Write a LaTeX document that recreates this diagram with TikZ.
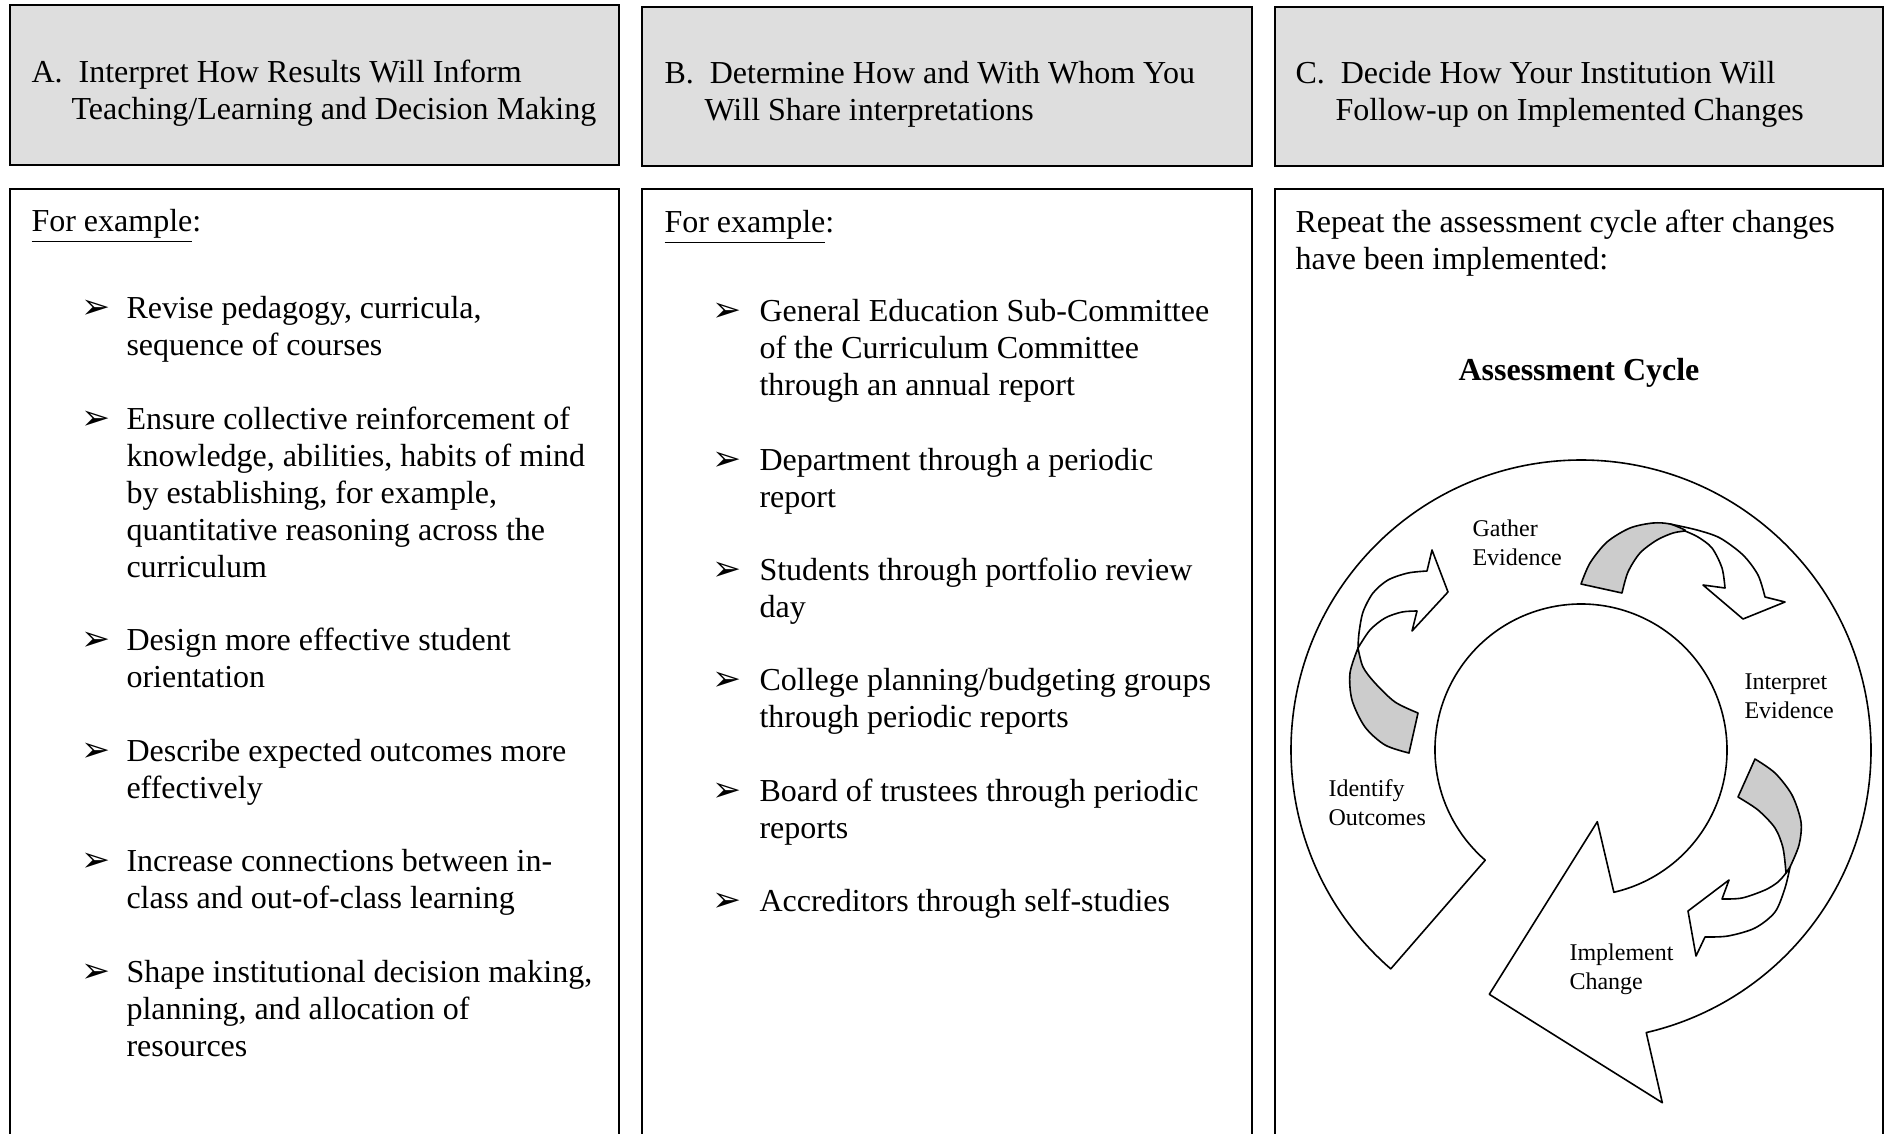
\documentclass[tikz,border=0pt]{standalone}
\usepackage{fontspec}
\setmainfont{Liberation Serif}
\newfontfamily\symfont{DejaVu Sans}
\definecolor{headgray}{gray}{0.87}
\definecolor{ribbongray}{gray}{0.8}
\tikzset{
  headbox/.style={draw, line width=0.8pt, fill=headgray},
  bodybox/.style={draw, line width=0.8pt},
  % multi-line nodes: placed at the baseline of their last line
  txt/.style={anchor=base west, inner sep=0pt, align=left, font=\fontsize{12}{13.83}\selectfont},
  pointer/.style={anchor=base west, inner sep=0pt, font=\symfont\fontsize{13}{14}\selectfont},
  cyclab/.style={anchor=base west, inner sep=0pt, align=left, font=\fontsize{9}{10.6}\selectfont},
  ring/.style={draw, line width=0.6pt, fill=white, line join=round},
  ribbon/.style={draw, line width=0.6pt, fill=ribbongray, line join=round},
  flap/.style={draw, line width=0.6pt, fill=white, line join=round},
}
\begin{document}
\begin{tikzpicture}[x=0.375pt, y=-0.375pt]
\useasboundingbox (0,0) rectangle (1889,1133);
\clip (0,0) rectangle (1889,1133);
% header row
\draw[headbox] (10,5) rectangle (619,165);
\draw[headbox] (642,7) rectangle (1252,166);
\draw[headbox] (1275,7) rectangle (1883,166);
\node[txt] (headA) at (31,119) {A.\ \ Interpret How Results Will Inform\\\hspace*{15pt}Teaching/Learning and Decision Making};
\node[txt] (headB) at (664,120) {B.\ \ Determine How and With Whom You\\\hspace*{15pt}Will Share interpretations};
\node[txt] (headC) at (1295,120) {C.\ \ Decide How Your Institution Will\\\hspace*{15pt}Follow-up on Implemented Changes};
% body row
\draw[bodybox] (10,189) rectangle (619,1160);
\draw[bodybox] (642,189) rectangle (1252,1160);
\draw[bodybox] (1275,189) rectangle (1883,1160);

% column A
\node[txt] (forA) at (31,231) {\underline{For example}:};
\node[pointer] (pA1) at (81,318) {➢};
\node[txt] (itemA1) at (126,355) {Revise pedagogy, curricula,\\sequence of courses};
\node[pointer] (pA2) at (81,429) {➢};
\node[txt] (itemA2) at (126,577) {Ensure collective reinforcement of\\knowledge, abilities, habits of mind\\by establishing, for example,\\quantitative reasoning across the\\curriculum};
\node[pointer] (pA3) at (81,650) {➢};
\node[txt] (itemA3) at (126,687) {Design more effective student\\orientation};
\node[pointer] (pA4) at (81,761) {➢};
\node[txt] (itemA4) at (126,798) {Describe expected outcomes more\\effectively};
\node[pointer] (pA5) at (81,871) {➢};
\node[txt] (itemA5) at (126,908) {Increase connections between in-\\class and out-of-class learning};
\node[pointer] (pA6) at (81,982) {➢};
\node[txt] (itemA6) at (126,1056) {Shape institutional decision making,\\planning, and allocation of\\resources};

% column B
\node[txt] (forB) at (664,232) {\underline{For example}:};
\node[pointer] (pB1) at (712,321) {➢};
\node[txt] (itemB1) at (759,395) {General Education Sub-Committee\\of the Curriculum Committee\\through an annual report};
\node[pointer] (pB2) at (712,470) {➢};
\node[txt] (itemB2) at (759,507) {Department through a periodic\\report};
\node[pointer] (pB3) at (712,580) {➢};
\node[txt] (itemB3) at (759,617) {Students through portfolio review\\day};
\node[pointer] (pB4) at (712,690) {➢};
\node[txt] (itemB4) at (759,727) {College planning/budgeting groups\\through periodic reports};
\node[pointer] (pB5) at (712,801) {➢};
\node[txt] (itemB5) at (759,838) {Board of trustees through periodic\\reports};
\node[pointer] (pB6) at (712,911) {➢};
\node[txt] (itemB6) at (759,911) {Accreditors through self-studies};

% column C
\node[txt] (repeatC) at (1295,269) {Repeat the assessment cycle after changes\\have been implemented:};
\node[txt, anchor=base, font=\bfseries\fontsize{12}{13.83}\selectfont] (cycTitle) at (1579,380) {Assessment Cycle};

% big circular arrow
\begin{scope}[shift={(1581,750)}, x=0.375pt, y=0.375pt]
\draw[ring] (229:290) arc[start angle=229, end angle=-77, radius=290]
  -- (81.3,-352.7) -- (-91.7,-244.3) -- (16.3,-71.7)
  -- (-77:146) arc[start angle=-77, end angle=229, radius=146] -- cycle;
\end{scope}

% small arrow: gather -> interpret
\draw[flap] plot[smooth] coordinates {(1670,524) (1697,530) (1720,538) (1743,555) (1758,575) (1765,597)}
  -- (1785,602) -- (1743,619) -- (1703,585) -- (1725,588)
  -- plot[smooth] coordinates {(1725,588) (1722,568) (1712,548) (1698,537) (1685,531)} -- cycle;
\draw[ribbon] plot[smooth] coordinates {(1581,584) (1590,563) (1607,542) (1630,528) (1653,523) (1670,524) (1685,530)}
  -- plot[smooth] coordinates {(1685,531) (1673,533) (1657,540) (1640,553) (1628,572) (1622,593)} -- cycle;

% small arrow: interpret -> implement
\draw[flap] plot[smooth] coordinates {(1790,867) (1785,888) (1775,912) (1755,928) (1728,936) (1705,937)}
  -- (1696,956) -- (1688,911) -- (1729,880) -- (1722,899)
  -- plot[smooth] coordinates {(1722,899) (1742,898) (1765,890) (1778,882) (1786,873)} -- cycle;
\draw[ribbon] plot[smooth] coordinates {(1755,759) (1775,773) (1792,795) (1801,822) (1799,845) (1790,867)}
  -- plot[smooth] coordinates {(1786,873) (1783,848) (1775,828) (1758,810) (1738,797)} -- cycle;

% small arrow: identify -> gather
\draw[flap] plot[smooth] coordinates {(1358,648) (1359,633) (1363,612) (1373,593) (1388,580) (1408,573) (1427,571)}
  -- (1432,550) -- (1448,592) -- (1412,631) -- (1417,611)
  -- plot[smooth] coordinates {(1417,611) (1402,612) (1385,618) (1370,630) (1358,648)} -- cycle;
\draw[ribbon] plot[smooth] coordinates {(1409,753) (1385,745) (1365,727) (1352,700) (1350,673) (1358,648)}
  -- plot[smooth] coordinates {(1358,648) (1363,667) (1375,683) (1395,702) (1418,713)} -- cycle;

% stage labels
\node[cyclab] (gather) at (1472,565) {Gather\\Evidence};
\node[cyclab] (interpret) at (1744,718) {Interpret\\Evidence};
\node[cyclab] (identify) at (1328,825) {Identify\\Outcomes};
\node[cyclab] (implement) at (1569,989) {Implement\\Change};
\end{tikzpicture}
\end{document}
